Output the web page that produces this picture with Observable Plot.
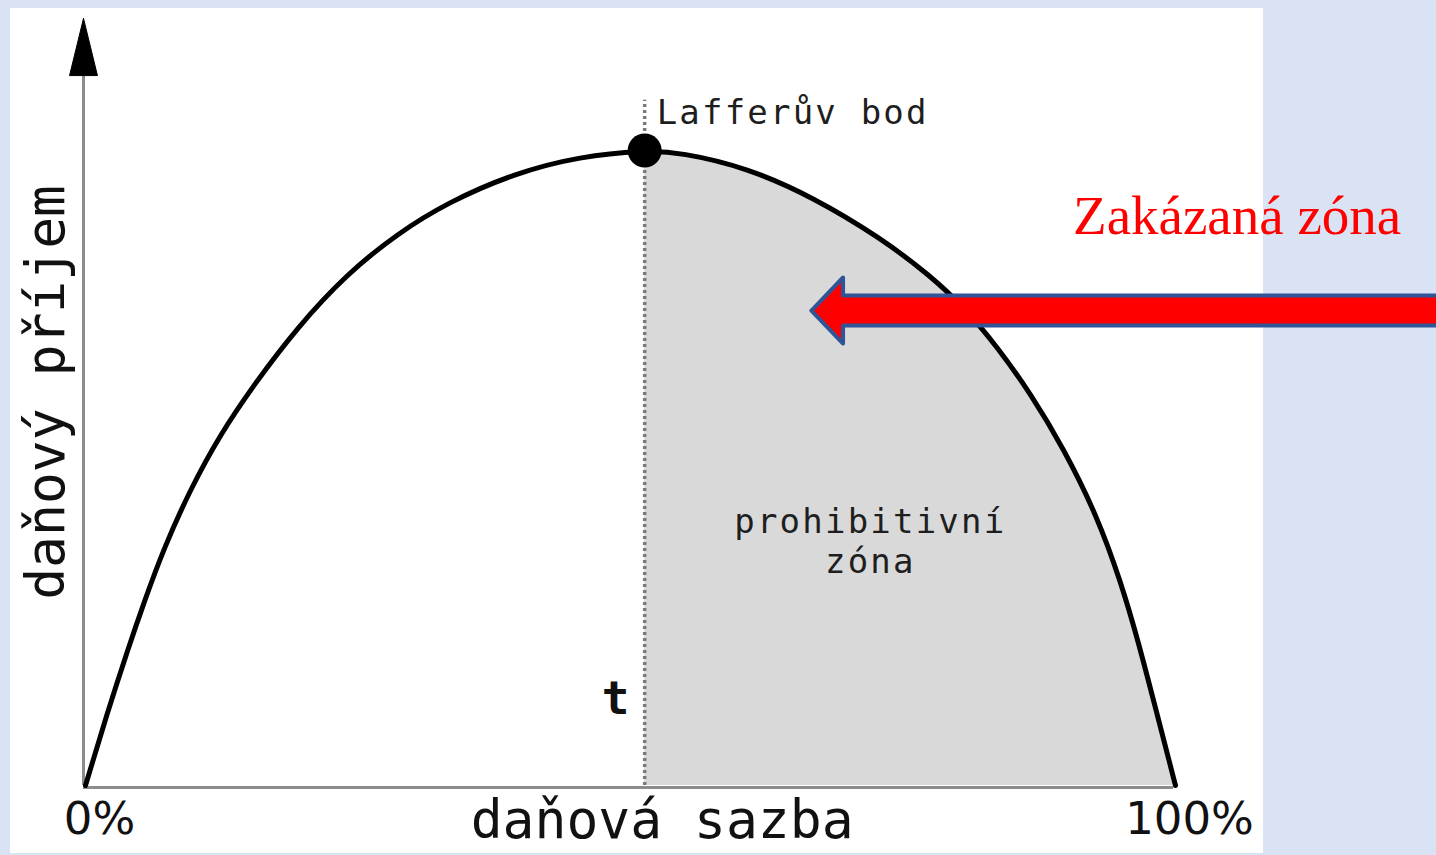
<!DOCTYPE html>
<html>
<head>
<meta charset="utf-8">
<script src="https://cdn.jsdelivr.net/npm/d3@7"></script>
<script src="https://cdn.jsdelivr.net/npm/@observablehq/plot@0.6"></script>
<style>
  html, body { margin: 0; padding: 0; background: #dae3f3; width: 1436px; height: 855px; overflow: hidden; }
  #panel { position: absolute; left: 10px; top: 8px; width: 1253px; height: 845px; background: #ffffff; }
  #chart { position: absolute; left: 0; top: 0; }
</style>
</head>
<body>
<div id="panel"></div>
<div id="chart"></div>
<script>
// ---- data (tax rate in %, revenue as % of maximum) ----
const taxRate = [0, 1.9, 3.9, 5.4, 7.2, 9.6, 12.4, 15.4, 19.4, 24.0, 28.6, 33.2, 39.3, 45.4, 51.3, 54.6, 60.7, 66.8, 72.9, 77.5, 80.6, 83.7, 86.7, 89.7, 92.8, 95.0, 96.6, 98.3, 100];
const revenue = [0, 10.9, 21.5, 29.0, 37.4, 46.6, 55.4, 63.0, 72.1, 80.6, 86.9, 91.8, 96.4, 99.1, 100, 99.7, 97.3, 92.6, 86.3, 80.3, 75.3, 69.0, 61.7, 53.2, 42.5, 32.0, 22.6, 11.3, 0];
const lafferRate = 51.3;
const lafferRevenue = 100;
const xTickLabels = ["0%", "100%"];
const xTickValues = [0, 100];
const xLabel = "daňová sazba";
const yLabel = "daňový příjem";
const pointLabel = "Lafferův bod";
const zoneLines = ["prohibitivní", "zóna"];
const rateLabel = "t";
const forbiddenLabel = "Zakázaná zóna";

// annotation anchors (data units)
const zoneX = 72.0, zoneY = [39.7, 33.4];
const xLabelX = 52.9;
const yLabelY = 61.9;
const forbiddenX = 90.6, forbiddenY = 86.9;
const axisTop = 111.8, arrowTipY = 120.8, arrowHalf = 1.28;
const blockArrow = { tip: 66.6, back: 69.5, end: 126, cy: 74.8, shaft: 2.36, head: 5.2 };

const curve = taxRate.map((x, i) => ({x, y: revenue[i]}));
const prohibited = curve.filter(d => d.x >= lafferRate);

const yArrow = [
  {x: 0, y: arrowTipY}, {x: -arrowHalf, y: axisTop}, {x: arrowHalf, y: axisTop}, {x: 0, y: arrowTipY}
];
const A = blockArrow;
const redArrow = [
  {x: A.tip, y: A.cy},
  {x: A.back, y: A.cy + A.head},
  {x: A.back, y: A.cy + A.shaft},
  {x: A.end, y: A.cy + A.shaft},
  {x: A.end, y: A.cy - A.shaft},
  {x: A.back, y: A.cy - A.shaft},
  {x: A.back, y: A.cy - A.head},
  {x: A.tip, y: A.cy}
];

const mono = "DejaVu Sans Mono";

const chart = Plot.plot({
  width: 1436,
  height: 855,
  marginLeft: 85,
  marginRight: 261,
  marginTop: 150,
  marginBottom: 70,
  x: {domain: [0, 100], axis: null},
  y: {domain: [0, 100], axis: null},
  style: {background: "transparent", overflow: "visible"},
  marks: [
    Plot.areaY(prohibited, {x: "x", y: "y", fill: "#d9d9d9", curve: "basis"}),
    Plot.ruleX([lafferRate], {y1: 0, y2: 107.9, stroke: "#7a7a7a", strokeWidth: 3.5, strokeDasharray: "3,3"}),
    Plot.ruleX([0], {y1: 0, y2: axisTop, stroke: "#8c8c8c", strokeWidth: 3, dx: -2}),
    Plot.ruleY([0], {x1: 0, x2: 100, stroke: "#8c8c8c", strokeWidth: 3, dy: 2, dx: -2}),
    Plot.line(yArrow, {x: "x", y: "y", fill: "#000", stroke: "#000", strokeWidth: 1, dx: -2, curve: "linear"}),
    Plot.line(curve, {x: "x", y: "y", stroke: "#000", strokeWidth: 5, curve: "basis"}),
    Plot.dot([{x: lafferRate, y: lafferRevenue}], {x: "x", y: "y", r: 17, fill: "#000", stroke: "none"}),
    Plot.text([pointLabel], {x: lafferRate, y: lafferRevenue, dx: 12, dy: -27, text: d => d, textAnchor: "start", lineAnchor: "bottom", fontFamily: mono, fontSize: 34, fill: "#1e1e1e"}),
    Plot.text(zoneLines, {x: zoneX, y: (d, i) => zoneY[i], text: d => d, textAnchor: "middle", lineAnchor: "bottom", fontFamily: mono, fontSize: 34, fill: "#1e1e1e"}),
    Plot.text([rateLabel], {x: lafferRate, y: 11.3, dx: -29, text: d => d, textAnchor: "middle", lineAnchor: "bottom", fontFamily: mono, fontSize: 46, fontWeight: "bold", fill: "#111"}),
    Plot.text(xTickLabels, {x: (d, i) => xTickValues[i], y: -7.6, dx: 14, text: d => d, textAnchor: "middle", lineAnchor: "bottom", fontFamily: "DejaVu Sans", fontSize: 45, fill: "#111"}),
    Plot.text([xLabel], {x: xLabelX, y: -8.3, text: d => d, textAnchor: "middle", lineAnchor: "bottom", fontFamily: mono, fontSize: 53, fill: "#111"}),
    Plot.text([yLabel], {x: -2.0, y: yLabelY, text: d => d, rotate: -90, textAnchor: "middle", lineAnchor: "bottom", fontFamily: mono, fontSize: 53, fill: "#111"}),
    Plot.line(redArrow, {x: "x", y: "y", fill: "#ff0000", stroke: "#2f5597", strokeWidth: 4, strokeLinejoin: "round", curve: "linear"}),
    Plot.text([forbiddenLabel], {x: forbiddenX, y: forbiddenY, text: d => d, textAnchor: "start", lineAnchor: "bottom", fontFamily: "Liberation Serif", fontSize: 55, fill: "#ff0000"})
  ]
});

const spaced = new Set([pointLabel, ...zoneLines]);
chart.querySelectorAll("text").forEach(t => {
  if (spaced.has(t.textContent)) t.setAttribute("letter-spacing", "2.2");
});
document.getElementById("chart").appendChild(chart);
</script>
</body>
</html>
